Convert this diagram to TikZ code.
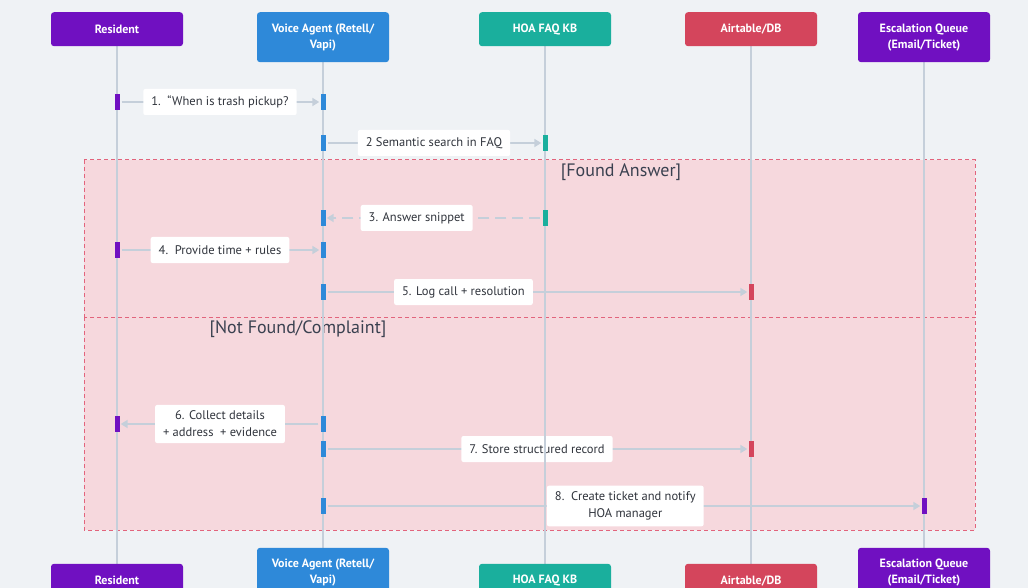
\documentclass[tikz,border=0pt]{standalone}
\usepackage{fontspec}
\setmainfont{PT Sans}
\usetikzlibrary{positioning, arrows.meta}
\tikzset{>={Triangle[width=8pt,length=7pt]}}

\definecolor{bgcol}{HTML}{EFF2F5}
\definecolor{respurple}{HTML}{7010C1}
\definecolor{agentblue}{HTML}{2E89D9}
\definecolor{kbteal}{HTML}{1AAF9D}
\definecolor{dbred}{HTML}{D4455C}
\definecolor{linegray}{HTML}{C5CFDA}
\definecolor{framefill}{HTML}{F6D8DD}
\definecolor{framedraw}{HTML}{E2647C}
\definecolor{labeltext}{HTML}{30343C}
\definecolor{frametext}{HTML}{3A4150}

\pgfdeclarelayer{frames}
\pgfdeclarelayer{messages}
\pgfdeclarelayer{lifelines}
\pgfsetlayers{frames,messages,lifelines,main}

\begin{document}
\begin{tikzpicture}[x=1pt, y=-1pt,
    actor/.style={rectangle, rounded corners=3pt, fill=#1, text=white, font=\fontsize{12}{16}\selectfont\bfseries, align=center, minimum width=132pt, minimum height=34pt, inner sep=0pt},
    tallactor/.style={actor=#1, minimum height=50pt},
    actbar/.style={rectangle, fill=#1, minimum width=5pt, minimum height=16pt, inner sep=0pt},
    msg/.style={draw=linegray, line width=2pt, ->, shorten <=2pt, shorten >=1pt},
    reply/.style={msg, dash pattern=on 11pt off 6pt},
    msglabel/.style={rectangle, rounded corners=2pt, fill=white, text=labeltext, font=\fontsize{12.5}{17}\selectfont, align=center, inner xsep=8pt, inner ysep=6pt, minimum height=26pt},
    altframe/.style={draw=framedraw, fill=framefill, dash pattern=on 4pt off 3pt, line width=1pt},
    framelabel/.style={text=frametext, font=\fontsize{18}{20}\selectfont, inner sep=0pt},
    lifeline/.style={draw=linegray, line width=2pt}]

    \useasboundingbox (0,0) rectangle (1028,588);

    %Participants
    \node[actor=respurple, anchor=north] (res) at (117,12) {Resident};
    \node[tallactor=agentblue, anchor=north] (agent) at (323,12) {Voice Agent (Retell/\\Vapi)};
    \node[actor=kbteal, anchor=north] (kb) at (545,12) {HOA FAQ KB};
    \node[actor=dbred, anchor=north] (db) at (751,12) {Airtable/DB};
    \node[tallactor=respurple, anchor=north] (esc) at (924,12) {Escalation Queue\\(Email/Ticket)};

    \node[actor=respurple, anchor=south] (resB) at (117,598) {Resident};
    \node[tallactor=agentblue, anchor=south] (agentB) at (323,598) {Voice Agent (Retell/\\Vapi)};
    \node[actor=kbteal, anchor=south] (kbB) at (545,598) {HOA FAQ KB};
    \node[actor=dbred, anchor=south] (dbB) at (751,598) {Airtable/DB};
    \node[tallactor=respurple, anchor=south] (escB) at (924,598) {Escalation Queue\\(Email/Ticket)};

    %Activation bars
    \node[actbar=respurple] (r1) at (117,102) {};
    \node[actbar=agentblue] (a1) at (323,102) {};
    \node[actbar=agentblue] (a2) at (323,143) {};
    \node[actbar=kbteal] (k2) at (545,143) {};
    \node[actbar=kbteal] (k3) at (545,218) {};
    \node[actbar=agentblue] (a3) at (323,218) {};
    \node[actbar=respurple] (r4) at (117,250) {};
    \node[actbar=agentblue] (a4) at (323,250) {};
    \node[actbar=agentblue] (a5) at (323,292) {};
    \node[actbar=dbred] (d5) at (751,292) {};
    \node[actbar=agentblue] (a6) at (323,424) {};
    \node[actbar=respurple] (r6) at (117,424) {};
    \node[actbar=agentblue] (a7) at (323,449) {};
    \node[actbar=dbred] (d7) at (751,449) {};
    \node[actbar=agentblue] (a8) at (323,506) {};
    \node[actbar=respurple] (e8) at (924,506) {};

    %Frames
    \begin{pgfonlayer}{frames}
    \fill[bgcol] (0,0) rectangle (1028,588);
    \draw[altframe] (84,160) rectangle (975,317);
    \draw[altframe] (84,317) rectangle (975,530);
    \node[framelabel] (found) at (621,172) {[Found Answer]};
    \node[framelabel] (notfound) at (298,329) {[Not Found/Complaint]};
    \end{pgfonlayer}

    %Lifelines
    \begin{pgfonlayer}{lifelines}
    \draw[lifeline] (res.south) -- (resB.north);
    \draw[lifeline] (agent.south) -- (agentB.north);
    \draw[lifeline] (kb.south) -- (kbB.north);
    \draw[lifeline] (db.south) -- (dbB.north);
    \draw[lifeline] (esc.south) -- (escB.north);
    \end{pgfonlayer}

    %Messages
    \begin{pgfonlayer}{messages}
    \draw[msg] (r1.east) -- node[msglabel] (m1) {1.\ \ “When is trash pickup?} (a1.west);
    \draw[msg] (a2.east) -- node[msglabel] (m2) {2 Semantic search in FAQ} (k2.west);
    \draw[reply] (k3.west) -- node[msglabel, pos=0.58] (m3) {3. Answer snippet} (a3.east);
    \draw[msg] (r4.east) -- node[msglabel] (m4) {4.\ \ Provide time + rules} (a4.west);
    \draw[msg] (a5.east) -- node[msglabel, pos=0.326] (m5) {5. Log call + resolution} (d5.west);
    \draw[msg] (a6.west) -- node[msglabel] (m6) {6. Collect details\\+ address\ \ + evidence} (r6.east);
    \draw[msg] (a7.east) -- node[msglabel] (m7) {7. Store structured record} (d7.west);
    \draw[msg] (a8.east) -- node[msglabel, pos=0.503] (m8) {8.\ \ Create ticket and notify\\HOA manager} (e8.west);
    \end{pgfonlayer}

\end{tikzpicture}
\end{document}
